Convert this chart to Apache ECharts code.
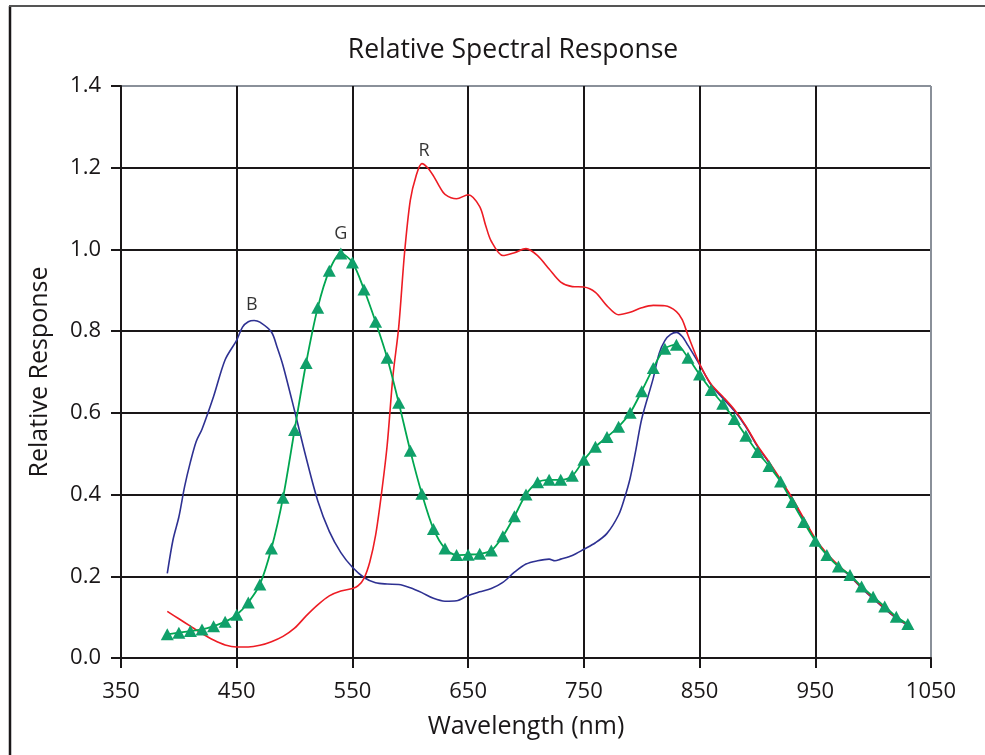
<!DOCTYPE html>
<html>
<head>
<meta charset="utf-8">
<script src="https://cdn.jsdelivr.net/npm/echarts@6/dist/echarts.min.js"></script>
<style>
html,body{margin:0;padding:0;background:#fff;}
#c{width:985px;height:755px;}
</style>
</head>
<body>
<div id="c"></div>
<script>
// ---- data ----
var greenWl = [390,400,410,420,430,440,450,460,470,480,490,500,510,520,530,540,550,560,570,580,590,600,610,620,630,640,650,660,670,680,690,700,710,720,730,740,750,760,770,780,790,800,810,820,830,840,850,860,870,880,890,900,910,920,930,940,950,960,970,980,990,1000,1010,1020,1030];
var greenVal = [0.058,0.062,0.066,0.070,0.078,0.089,0.106,0.136,0.180,0.268,0.392,0.558,0.722,0.857,0.948,0.990,0.968,0.902,0.823,0.735,0.625,0.507,0.402,0.316,0.268,0.252,0.253,0.255,0.263,0.298,0.347,0.400,0.430,0.436,0.436,0.446,0.485,0.517,0.541,0.566,0.600,0.653,0.710,0.757,0.767,0.735,0.694,0.656,0.622,0.585,0.544,0.504,0.470,0.432,0.382,0.333,0.287,0.252,0.224,0.203,0.175,0.150,0.126,0.101,0.083];

var redWl = [390,400,410,420,430,440,450,460,470,480,490,500,510,520,530,540,550,555,560,565,570,575,580,585,590,595,600,605,610,615,620,625,630,640,650,660,665,670,680,690,700,710,720,730,740,750,760,770,780,790,800,810,820,830,835,840,850,860,870,880,890,900,910,920,930,940,950,960,970,980,990,1000,1010,1020,1030];
var redVal = [0.114,0.096,0.078,0.060,0.044,0.032,0.027,0.027,0.031,0.040,0.053,0.073,0.103,0.130,0.152,0.164,0.170,0.177,0.195,0.235,0.300,0.400,0.520,0.690,0.810,0.990,1.120,1.180,1.210,1.200,1.180,1.155,1.135,1.124,1.134,1.105,1.060,1.020,0.985,0.992,1.002,0.985,0.952,0.920,0.909,0.908,0.895,0.862,0.840,0.846,0.857,0.863,0.862,0.848,0.828,0.790,0.720,0.670,0.640,0.608,0.568,0.520,0.480,0.437,0.392,0.342,0.292,0.256,0.227,0.201,0.173,0.147,0.122,0.099,0.081];

var blueWl = [390,395,400,405,410,415,420,430,440,450,455,460,465,470,480,485,490,500,510,520,530,540,550,560,570,580,590,600,610,620,630,640,650,660,670,680,690,700,710,720,725,730,740,750,760,770,780,785,790,795,800,810,815,820,825,830,835,840,850,860,870,880,890,900,910,920,930,940,950,960,970,980,990,1000,1010,1020,1030];
var blueVal = [0.207,0.290,0.345,0.420,0.480,0.530,0.560,0.640,0.730,0.778,0.810,0.823,0.826,0.822,0.798,0.760,0.716,0.605,0.490,0.385,0.310,0.258,0.222,0.197,0.184,0.181,0.180,0.172,0.160,0.146,0.139,0.140,0.153,0.162,0.170,0.185,0.210,0.230,0.238,0.242,0.238,0.242,0.251,0.266,0.282,0.305,0.350,0.390,0.440,0.510,0.585,0.685,0.745,0.777,0.792,0.797,0.787,0.765,0.718,0.668,0.636,0.605,0.566,0.518,0.478,0.434,0.389,0.339,0.290,0.254,0.225,0.200,0.171,0.145,0.120,0.097,0.080];

var curveLabels = ['B','G','R'];
var labelWl = [463,540,612];
var labelVal = [0.864,1.038,1.241];

var xTicks = [350,450,550,650,750,850,950,1050];
var yTicks = [0.0,0.2,0.4,0.6,0.8,1.0,1.2,1.4];

// ---- chart ----
function zip(a,b){ return a.map(function(v,i){ return [v,b[i]]; }); }
var FONT = '"Open Sans","Noto Sans",sans-serif';
var chart = echarts.init(document.getElementById('c'));
var dark = '#1a1718', gray = '#8a9099';

chart.setOption({
  animation:false,
  backgroundColor:'#fff',
  textStyle:{fontFamily:FONT},
  title:{
    text:'Relative Spectral Response',
    left:508, top:32, textAlign:'center',
    textStyle:{fontFamily:FONT,fontSize:26.5,fontWeight:'normal',color:dark}
  },
  grid:{left:121,right:54,top:86,bottom:97,containLabel:false},
  xAxis:{
    type:'value', min:xTicks[0], max:xTicks[xTicks.length-1], interval:100,
    name:'Wavelength (nm)', nameLocation:'middle', nameGap:56,
    nameTextStyle:{fontFamily:FONT,fontSize:25,color:dark},
    axisLine:{show:true,lineStyle:{color:dark,width:2}},
    axisTick:{show:true,length:10,lineStyle:{color:dark,width:2}},
    axisLabel:{fontFamily:FONT,fontSize:22,color:dark,margin:23,formatter:function(v){return String(v);}},
    splitLine:{show:true,lineStyle:{color:[dark,dark,dark,dark,dark,dark,dark,gray],width:2}}
  },
  yAxis:{
    type:'value', min:yTicks[0], max:yTicks[yTicks.length-1], interval:0.2,
    name:'Relative Response', nameLocation:'middle', nameGap:69,
    nameTextStyle:{fontFamily:FONT,fontSize:25,color:dark},
    axisLine:{show:true,lineStyle:{color:dark,width:2}},
    axisTick:{show:true,length:10,lineStyle:{color:dark,width:2}},
    axisLabel:{fontFamily:FONT,fontSize:22,color:dark,margin:20,formatter:function(v){return v.toFixed(1);}},
    splitLine:{show:true,lineStyle:{color:[dark,dark,dark,dark,dark,dark,dark,gray],width:2}}
  },
  series:[
    {type:'line',data:zip(blueWl,blueVal),smooth:0.3,showSymbol:false,symbol:'none',
     lineStyle:{color:'#2e3192',width:1.6},z:3},
    {type:'line',data:zip(redWl,redVal),smooth:0.3,showSymbol:false,symbol:'none',
     lineStyle:{color:'#ed1c24',width:1.6},z:4},
    {type:'line',data:zip(greenWl,greenVal),smooth:0.3,symbol:'triangle',symbolSize:[13,12],
     itemStyle:{color:'#10a06a'},lineStyle:{color:'#00a650',width:1.8},z:5},
    {type:'scatter',data:labelWl.map(function(w,i){return [w,labelVal[i],curveLabels[i]];}),
     symbolSize:1,itemStyle:{color:'rgba(0,0,0,0)'},
     label:{show:true,position:'inside',formatter:function(p){return p.value[2];},
       fontFamily:FONT,fontSize:18,color:'#000'},z:6}
  ],
  graphic:[
    {type:'line',shape:{x1:10,y1:6,x2:10,y2:760},style:{stroke:dark,lineWidth:2.5},silent:true},
    {type:'line',shape:{x1:9,y1:6,x2:990,y2:6},style:{stroke:'#555',lineWidth:2},silent:true}
  ]
});
</script>
</body>
</html>
